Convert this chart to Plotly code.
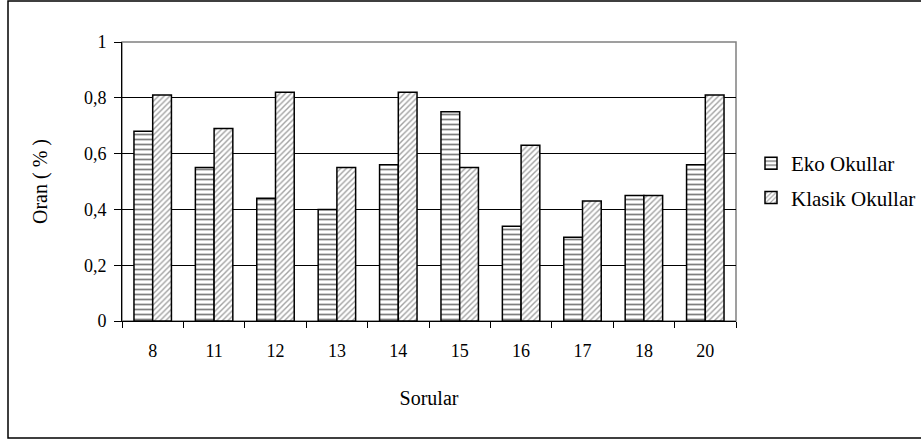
import plotly.graph_objects as go

categories = ["8", "11", "12", "13", "14", "15", "16", "17", "18", "20"]
eko_okullar = [0.68, 0.55, 0.44, 0.40, 0.56, 0.75, 0.34, 0.30, 0.45, 0.56]
klasik_okullar = [0.81, 0.69, 0.82, 0.55, 0.82, 0.55, 0.63, 0.43, 0.45, 0.81]
y_ticks = [0, 0.2, 0.4, 0.6, 0.8, 1]

W, H = 921, 443
ml, mr, mt, mb = 122, 185, 42, 122
pw, ph = W - ml - mr, H - mt - mb

FAM = "Liberation Serif"
tick_font = dict(family=FAM, size=18, color="black")
title_font = dict(family=FAM, size=20, color="black")

fig = go.Figure()
fig.add_trace(go.Bar(
    x=categories, y=eko_okullar, name="Eko Okullar", legendgroup="a",
    marker=dict(color="white", line=dict(color="black", width=1.5),
                pattern=dict(shape="-", fgcolor="black", bgcolor="white", size=5, solidity=0.35)),
))
fig.add_trace(go.Bar(
    x=categories, y=klasik_okullar, name="Klasik Okullar", legendgroup="b",
    marker=dict(color="white", line=dict(color="black", width=1.5),
                pattern=dict(shape="/", fgcolor="#444444", bgcolor="white", size=4, solidity=0.35)),
))

# outer chart frame, converted from pixel positions to paper coords
def px_x(p):
    return (p - ml) / pw

def px_y(p):
    return (H - mb - p) / ph

fig.add_shape(type="rect", xref="paper", yref="paper",
              x0=px_x(8), x1=px_x(930), y0=px_y(438), y1=px_y(1),
              line=dict(color="black", width=1.5), layer="below")
fig.add_shape(type="rect", xref="paper", yref="paper",
              x0=0, x1=1, y0=0, y1=1,
              line=dict(color="#808080", width=1.5), layer="below")

fig.update_layout(
    width=W, height=H,
    margin=dict(l=ml, r=mr, t=mt, b=mb, pad=0, autoexpand=False),
    paper_bgcolor="white", plot_bgcolor="white",
    separators=", ",
    barmode="group", bargap=0.39, bargroupgap=0,
    font=tick_font,
    showlegend=True,
    legend=dict(x=px_x(751), y=px_y(143), xanchor="left", yanchor="top",
                font=dict(family=FAM, size=21, color="black"),
                tracegroupgap=4, itemwidth=30, bgcolor="rgba(0,0,0,0)"),
    xaxis=dict(
        title=dict(text="Sorular", font=title_font, standoff=31),
        showline=True, linecolor="black", linewidth=1,
        ticks="outside", ticklen=6, tickcolor="black", tickson="boundaries",
        tickfont=tick_font, ticklabelstandoff=13, showgrid=False,
    ),
    yaxis=dict(
        title=dict(text="Oran ( % )", font=title_font, standoff=30),
        range=[0, 1], tickvals=y_ticks,
        showline=True, linecolor="black", linewidth=1,
        ticks="outside", ticklen=7, tickcolor="black",
        tickfont=tick_font, ticklabelstandoff=4, showgrid=True, gridcolor="black", gridwidth=1,
        zeroline=False,
    ),
)

fig.write_html("out.html", config={"displayModeBar": False},
               post_script="document.body.style.margin='0';")
